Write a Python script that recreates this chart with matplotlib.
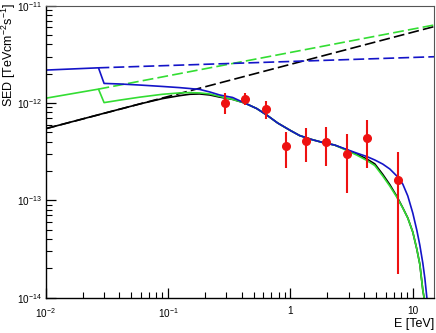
import numpy as np
import matplotlib
matplotlib.use("Agg")
from matplotlib import pyplot as plt
from matplotlib.ticker import LogLocator, NullFormatter

plt.rcParams['font.family'] = ['Liberation Sans', 'DejaVu Sans']
plt.rcParams['mathtext.default'] = 'regular'

# measured points
E_pts = [0.290, 0.423, 0.632, 0.915, 1.35, 1.97, 2.89, 4.26, 7.58]
sed_pts = [1.01e-12, 1.10e-12, 8.61e-13, 3.61e-13, 4.04e-13, 3.95e-13, 2.99e-13, 4.37e-13, 1.63e-13]
sed_hi = [1.26e-12, 1.26e-12, 1.05e-12, 5.07e-13, 5.50e-13, 5.63e-13, 4.80e-13, 6.64e-13, 3.11e-13]
sed_lo = [7.65e-13, 9.54e-13, 6.80e-13, 2.16e-13, 2.49e-13, 2.24e-13, 1.18e-13, 2.16e-13, 1.74e-14]

# intrinsic power laws (dashed)
E_int_black = [0.01, 15.0]
sed_int_black = [5.45e-13, 6.11e-12]
E_int_green = [0.027, 15.0]
sed_int_green = [1.39e-12, 6.34e-12]
E_int_blue = [0.027, 15.0]
sed_int_blue = [2.30e-12, 2.99e-12]

# absorbed models (solid)
E_blue = [0.01, 0.027, 0.030, 0.040, 0.059, 0.090, 0.124, 0.150, 0.181, 0.219, 0.264,
          0.337, 0.423, 0.530, 0.640, 0.787, 1.00, 1.19, 1.49, 1.84, 2.30, 2.89,
          3.48, 4.21, 4.89, 5.68, 6.49, 7.40, 8.28, 9.10, 10.0, 10.78, 11.41,
          12.07, 12.54, 13.02, 13.27]
sed_blue = [2.18e-12, 2.30e-12, 1.59e-12, 1.57e-12, 1.53e-12, 1.48e-12, 1.44e-12, 1.41e-12,
            1.38e-12, 1.30e-12, 1.21e-12, 1.14e-12, 1.00e-12, 8.78e-13, 7.53e-13, 6.23e-13,
            5.22e-13, 4.63e-13, 4.22e-13, 3.93e-13, 3.70e-13, 3.33e-13, 3.06e-13, 2.82e-13,
            2.60e-13, 2.36e-13, 2.10e-13, 1.78e-13, 1.47e-13, 1.11e-13, 7.4e-14, 4.95e-14,
            3.47e-14, 2.27e-14, 1.59e-14, 1.01e-14, 7.8e-15]
E_green = [0.01, 0.027, 0.030, 0.040, 0.059, 0.090, 0.124, 0.150, 0.181, 0.219, 0.264,
           0.337, 0.423, 0.530, 0.640, 0.787, 1.00, 1.19, 1.49, 1.84, 2.30, 2.89,
           3.48, 4.21, 4.89, 5.68, 6.49, 7.40, 8.28, 9.10, 10.0, 10.78, 11.41,
           12.07, 12.54]
sed_green = [1.12e-12, 1.39e-12, 1.01e-12, 1.07e-12, 1.15e-12, 1.23e-12, 1.27e-12, 1.28e-12,
             1.27e-12, 1.24e-12, 1.17e-12, 1.09e-12, 1.00e-12, 8.78e-13, 7.53e-13, 6.23e-13,
             5.22e-13, 4.63e-13, 4.22e-13, 3.93e-13, 3.70e-13, 3.25e-13, 2.92e-13, 2.57e-13,
             2.28e-13, 1.78e-13, 1.40e-13, 1.08e-13, 8.34e-14, 6.58e-14, 4.72e-14, 3.16e-14,
             2.21e-14, 1.20e-14, 9.0e-15]
E_black = [0.01, 0.030, 0.059, 0.090, 0.124, 0.150, 0.181, 0.219, 0.264, 0.337, 0.423,
           0.530, 0.640, 0.787, 1.00, 1.19, 1.49, 1.84, 2.30, 2.89, 3.48, 4.21, 4.89,
           5.68, 6.49, 7.40, 8.28, 9.10, 10.0, 10.78, 11.41, 12.07, 12.54]
sed_black = [5.45e-13, 7.85e-13, 9.8e-13, 1.11e-12, 1.19e-12, 1.23e-12, 1.24e-12, 1.21e-12,
             1.15e-12, 1.09e-12, 1.00e-12, 8.78e-13, 7.53e-13, 6.23e-13, 5.22e-13, 4.63e-13,
             4.22e-13, 3.93e-13, 3.70e-13, 3.30e-13, 2.99e-13, 2.66e-13, 2.37e-13, 1.85e-13,
             1.45e-13, 1.10e-13, 8.4e-14, 6.6e-14, 4.72e-14, 3.16e-14, 2.21e-14, 1.20e-14, 9.0e-15]

blue = '#1414c8'
green = '#33dd33'
red = '#ee1111'
dash = (6.5, 2.5)

fig = plt.figure(figsize=(4.36, 3.33), dpi=100)
ax = fig.add_axes([0.1048, 0.106, 0.8906, 0.8769])

ax.plot(E_int_black, sed_int_black, color='black', lw=1.2, dashes=dash)
ax.plot(E_int_green, sed_int_green, color=green, lw=1.2, dashes=dash)
ax.plot(E_int_blue, sed_int_blue, color=blue, lw=1.2, dashes=dash)
ax.plot(E_black, sed_black, color='black', lw=1.2)
ax.plot(E_green, sed_green, color=green, lw=1.2)
ax.plot(E_blue, sed_blue, color=blue, lw=1.2)

yerr = [np.array(sed_pts) - np.array(sed_lo), np.array(sed_hi) - np.array(sed_pts)]
ax.errorbar(E_pts, sed_pts, yerr=yerr, fmt='o', color=red, ms=5.5, elinewidth=1.5,
            capsize=0, zorder=5)

ax.set_xscale('log')
ax.set_yscale('log')
ax.set_xlim(0.01, 14.9)
ax.set_ylim(1e-14, 1e-11)

ax.set_xticks([0.01, 0.1, 1, 10], labels=['$10^{-2}$', '$10^{-1}$', '1', '10'])
ax.set_yticks([1e-14, 1e-13, 1e-12, 1e-11],
              labels=['$10^{-14}$', '$10^{-13}$', '$10^{-12}$', '$10^{-11}$'])
ax.xaxis.set_minor_locator(LogLocator(base=10, subs=np.arange(2, 10), numticks=20))
ax.yaxis.set_minor_locator(LogLocator(base=10, subs=np.arange(2, 10), numticks=20))
ax.xaxis.set_minor_formatter(NullFormatter())
ax.yaxis.set_minor_formatter(NullFormatter())
ax.tick_params(which='both', direction='in', top=False, right=False, labelsize=7.2)
ax.tick_params(axis='x', which='major', pad=6)
ax.tick_params(axis='y', which='major', pad=2.5)
ax.tick_params(which='major', length=7, width=0.9)
ax.tick_params(which='minor', length=4, width=0.8)

for s in ['left', 'bottom']:
    ax.spines[s].set_color('black')
    ax.spines[s].set_linewidth(1.0)
for s in ['top', 'right']:
    ax.spines[s].set_color('#555555')
    ax.spines[s].set_linewidth(0.8)

# ROOT-style axis titles at the ends of the axes
fig.text(8.5 / 436, 1 - 3 / 333, 'SED [TeVcm$^{-2}$s$^{-1}$]', fontsize=9,
         rotation=90, ha='center', va='top')
fig.text(434 / 436, 1 - 324 / 333, 'E [TeV]', fontsize=9, ha='right', va='center')

fig.savefig('out.png', dpi=100)
